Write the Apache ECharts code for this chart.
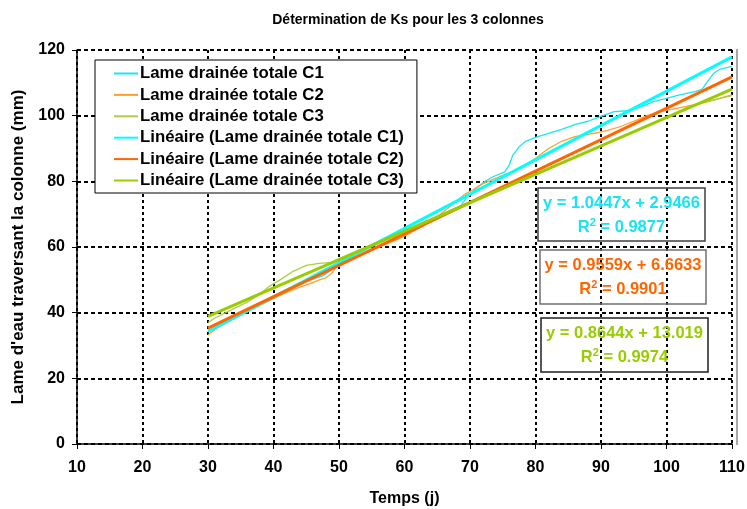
<!DOCTYPE html>
<html>
<head>
<meta charset="utf-8">
<script src="https://cdn.jsdelivr.net/npm/echarts@6/dist/echarts.min.js"></script>
<style>html,body{margin:0;padding:0;background:#fff;}#c{width:747px;height:509px;}</style>
</head>
<body>
<div id="c"></div>
<script>
const titleText = 'Détermination de Ks pour les 3 colonnes';
const xName = 'Temps (j)';
const yName = "Lame d'eau traversant la colonne (mm)";
const seriesNames = ['Lame drainée totale C1','Lame drainée totale C2','Lame drainée totale C3',
  'Linéaire (Lame drainée totale C1)','Linéaire (Lame drainée totale C2)','Linéaire (Lame drainée totale C3)'];

const c1 = [[30,34.2],[31,35.3],[32,36.2],[34,38.5],[36,40.5],[38,42.6],[40,44.8],[42,46.8],[44,48.8],[46,50.2],
  [47.5,51.2],[48.5,52.5],[49.5,54.5],[51,56.2],[53,58.2],[55,60.2],[57,62],[60,64.6],[62,66.6],[64,68.3],
  [66,70.2],[67.5,71.6],[68.7,72.8],[69.5,75.2],[70.7,77.4],[72,79.6],[73.5,81.4],[75.3,82.9],[76,85],[76.5,87.8],
  [77.5,90.5],[78.5,92.2],[80,93.4],[82,94.6],[84,95.8],[86,97.3],[88,98.3],[90,99.8],[92,101.2],[94,101.5],
  [96,102.6],[98,104.3],[100,105.3],[102,106.3],[104.5,107.4],[105.5,108.2],[106.3,110.5],[107.2,112.9],[108.2,114.2],[110,115]];
const c2 = [[30,33.2],[31,34.8],[32,36],[34,38.2],[36,40.2],[38,42.3],[40,44.3],[42,46.2],[44,47.8],[45.5,48.8],
  [47,50],[48,50.6],[49,52.2],[49.5,54],[51,55.5],[53,57.3],[55,59],[57,60.7],[59,62.4],[61,64.4],
  [63,66.6],[65,69.2],[67,72.4],[69,75.8],[70.5,77.5],[72,79.3],[74,81],[76,82.6],[78,84.3],[80,87],
  [82,90],[84,92.2],[86,93.6],[88,94.3],[89.5,94.8],[91,95.5],[93,96.7],[95,98.3],[97,100],[99,101.3],
  [101,102],[103,102.8],[105,103.7],[107,104.6],[109,105.8],[110,106.3]];
const c3 = [[30,37.0],[31,38.3],[32,39.3],[34,41.3],[36,43.2],[38,45.8],[39.5,48.2],[41,50],[43,52.6],[45,54.4],
  [47,55],[49,55.3],[50.5,56.2],[52,57.8],[54,59.6],[56,61.4],[58,63.2],[60,64.9],[63,67.5],[66,70.1],
  [69,72.6],[72,75.2],[75,77.8],[78,80.4],[81,83.0],[84,85.6],[87,88.2],[90,90.7],[93,93.3],[96,95.9],
  [99,98.6],[101,100.5],[103,102.4],[105,103.7],[107,104.7],[110,106.1]];
const t1 = [[30,34.3],[110,117.9]];
const t2 = [[30,35.3],[110,111.8]];
const t3 = [[30,38.9],[110,108.1]];
const eqLines = ['y = 1.0447x + 2.9466','y = 0.9559x + 6.6633','y = 0.8644x + 13.019'];
const r2Values = ['0.9877','0.9901','0.9974'];

const colors = ['#1CE6F2','#FFA030','#A8D040','#00FFFF','#FF6600','#99CC00'];
const eqColors = ['#19E3F0','#FF6600','#99CC00'];
const FONT = '"Liberation Sans", Arial, sans-serif';

const chart = echarts.init(document.getElementById('c'));
const dataSets = [c1,c2,c3,t1,t2,t3];
const series = dataSets.map((d,i)=>({
  name: seriesNames[i], type:'line', data:d, symbol:'none', showSymbol:false, smooth:false,
  lineStyle:{color:colors[i], width: i<3 ? 1.3 : 3},
  itemStyle:{color:colors[i]}, z: i<3 ? 2 : 3, animation:false
}));

const boxes = [
  {x:538,y:188,w:167,h:53,stroke:'#404040'},
  {x:540,y:250,w:166,h:54,stroke:'#707070'},
  {x:541,y:318,w:167,h:54,stroke:'#202020'}
];
const graphics = [];
boxes.forEach((b,i)=>{
  graphics.push({type:'rect', shape:{x:b.x,y:b.y,width:b.w,height:b.h}, style:{fill:'transparent',stroke:b.stroke,lineWidth:1.5}, z:10});
  graphics.push({type:'text', x:b.x+b.w/2, y:b.y+15, style:{text:eqLines[i], fill:eqColors[i], font:'bold 16.5px '+FONT, textAlign:'center', textVerticalAlign:'middle'}, z:11});
  graphics.push({type:'text', x:b.x+b.w/2, y:b.y+39, style:{
    text:'{a|R}{s|2}{a| = '+r2Values[i]+'}',
    textAlign:'center', textVerticalAlign:'middle',
    rich:{a:{fill:eqColors[i], font:'bold 16.5px '+FONT}, s:{fill:eqColors[i], font:'bold 11px '+FONT, verticalAlign:'top', padding:[0,0,8,0]}}
  }, z:11});
});
graphics.push({type:'line', shape:{x1:737,y1:49,x2:737,y2:445}, style:{stroke:'#A8A8A8',lineWidth:2}, z:1});

chart.setOption({
  animation:false,
  backgroundColor:'#fff',
  title:{text:titleText, left:403, top:8, textAlign:'center',
    textStyle:{fontFamily:FONT, fontWeight:'bold', fontSize:14, color:'#000'}},
  legend:{orient:'vertical', left:95, top:60,
    data: seriesNames.map(n=>({name:n, itemStyle:{opacity:0}})),
    itemStyle:{opacity:0},
    backgroundColor:'#fff', borderColor:'#000', borderWidth:1, padding:[5,13,4,18],
    itemGap:4.4, itemWidth:24, itemHeight:14,
    textStyle:{fontFamily:FONT, fontWeight:'bold', fontSize:16.8, color:'#000', padding:[0,0,0,-3]}},
  grid:{left:77, right:15, top:50, bottom:65, containLabel:false, outerBoundsMode:'none'},
  xAxis:{type:'value', min:10, max:110, interval:10,
    name:xName, nameLocation:'middle', nameGap:47,
    nameTextStyle:{fontFamily:FONT, fontWeight:'bold', fontSize:16, color:'#000'},
    axisLine:{lineStyle:{color:'#000', width:1.5}},
    axisTick:{show:true, length:5, lineStyle:{color:'#000'}},
    axisLabel:{fontFamily:FONT, fontWeight:'bold', fontSize:16, color:'#000', margin:16},
    splitLine:{show:true, lineStyle:{color:'#000', type:[3,3], width:2}}},
  yAxis:{type:'value', min:0, max:120, interval:20,
    name:yName, nameLocation:'middle', nameGap:50,
    nameTextStyle:{fontFamily:FONT, fontWeight:'bold', fontSize:17, color:'#000'},
    axisLine:{show:true, lineStyle:{color:'#000', width:1.5}},
    axisTick:{show:true, length:5, lineStyle:{color:'#000'}},
    axisLabel:{fontFamily:FONT, fontWeight:'bold', fontSize:16, color:'#000', margin:12},
    splitLine:{show:true, lineStyle:{color:'#000', type:[4,3], width:2}}},
  series: series,
  graphic: graphics
});
</script>
</body>
</html>
